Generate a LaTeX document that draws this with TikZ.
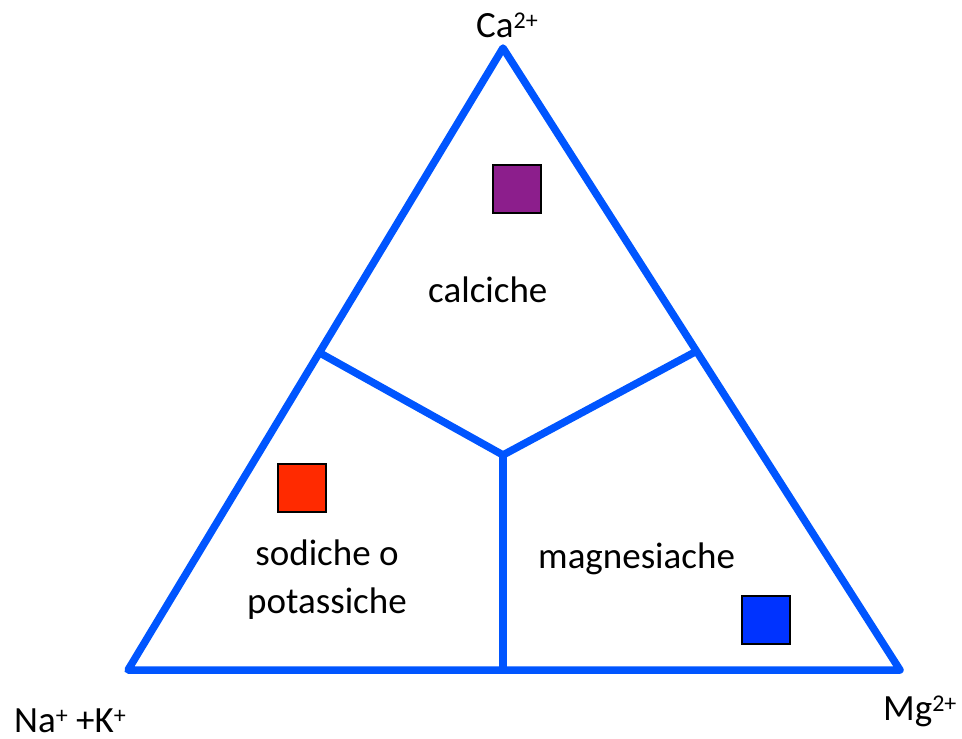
\documentclass[tikz,border=0pt]{standalone}
\usepackage{fontspec}
\setmainfont{Carlito}
\definecolor{lineblue}{RGB}{0,85,255}
\definecolor{cpurple}{RGB}{140,30,140}
\definecolor{cred}{RGB}{255,42,0}
\definecolor{cblue}{RGB}{0,51,255}
\newcommand{\sqsup}[1]{\raisebox{9pt}{\fontsize{24}{24}\selectfont #1}}
\tikzset{
  edge/.style={draw=lineblue, line width=7.5pt, line join=round},
  swatch/.style={draw=black, line width=2pt, minimum width=48pt, minimum height=48pt, inner sep=0pt},
  lbl/.style={font=\fontsize{37}{48}\selectfont, inner sep=0pt, align=center}
}
\begin{document}
\begin{tikzpicture}[x=1pt,y=-1pt]
\useasboundingbox (0,0) rectangle (962,739);
\coordinate (A) at (503,48);
\coordinate (B) at (128,670);
\coordinate (C) at (900,670);
\coordinate (L) at (320,353);
\coordinate (R) at (695,352);
\coordinate (M) at (503,455);
\coordinate (D) at (503,670);
\draw[edge] (A) -- (B) -- (C) -- cycle;
\draw[edge] (L) -- (M) -- (R);
\draw[edge] (M) -- (D);
\node[swatch, fill=cpurple] (sqp) at (517,189) {};
\node[swatch, fill=cred] (sqr) at (302,488) {};
\node[swatch, fill=cblue] (sqb) at (766,620) {};
\node[lbl, anchor=base west] (ca) at (476,37) {Ca\sqsup{2+}};
\node[lbl, anchor=base west] (na) at (14,732) {Na\sqsup{+} +K\sqsup{+}};
\node[lbl, anchor=base west] (mg) at (883,720) {Mg\sqsup{2+}};
\node[lbl, anchor=base west] (calc) at (428,302) {calciche};
\node[lbl] (sod) at (327,580) {sodiche o\\potassiche};
\node[lbl, anchor=base west] (mag) at (538,568) {magnesiache};
\end{tikzpicture}
\end{document}
